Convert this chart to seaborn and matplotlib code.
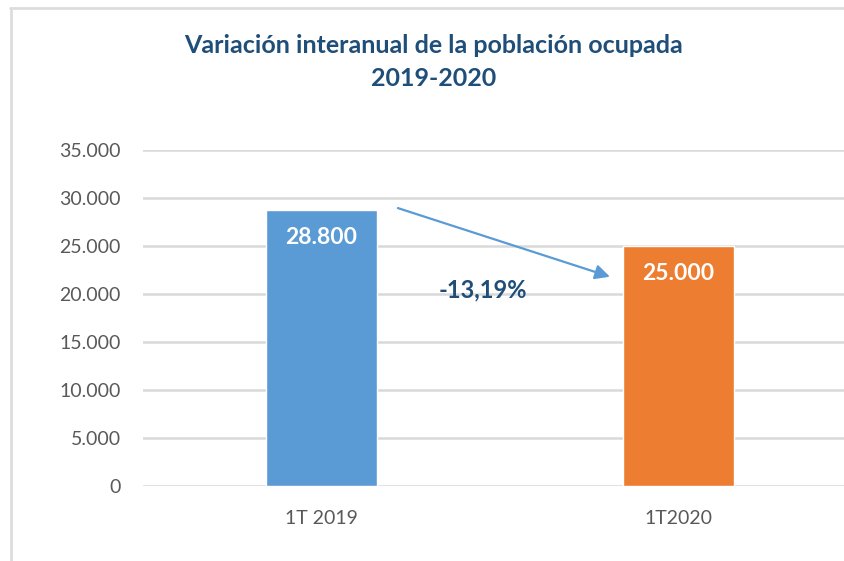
import matplotlib
matplotlib.use("Agg")
import matplotlib.pyplot as plt
from matplotlib.lines import Line2D
import pandas as pd
import seaborn as sns

# data
periods = ["1T 2019", "1T2020"]
ocupados = [28800, 25000]
bar_colors = ["#5B9BD5", "#ED7D31"]
y_ticks = [0, 5000, 10000, 15000, 20000, 25000, 30000, 35000]

TITLE_COLOR = "#1F4E79"
TICK_COLOR = "#595959"
GRID_COLOR = "#D9D9D9"


def fmt_es(v):
    # spanish thousands separator
    return f"{v:,.0f}".replace(",", ".")


sns.set_theme(style="white")
plt.rcParams["font.family"] = ["Lato", "DejaVu Sans"]

W, H = 845, 561
fig = plt.figure(figsize=(W / 100, H / 100), dpi=100)
ax = fig.add_axes([143 / W, 75 / H, 714 / W, 336 / H])

df = pd.DataFrame({"periodo": periods, "ocupados": ocupados})
sns.barplot(data=df, x="periodo", y="ocupados", hue="periodo",
            palette=bar_colors, legend=False, width=0.31, ax=ax,
            saturation=1, zorder=3)

ax.set_xlim(-0.5, 1.5)
ax.set_ylim(0, 35000)
ax.set_yticks(y_ticks)
ax.set_yticklabels([fmt_es(t) for t in y_ticks])
ax.set_xlabel("")
ax.set_ylabel("")
ax.tick_params(axis="both", length=0, labelsize=14, colors=TICK_COLOR)
ax.tick_params(axis="y", pad=16)
ax.tick_params(axis="x", pad=17)
for s in ax.spines.values():
    s.set_visible(False)
ax.yaxis.grid(True, color=GRID_COLOR, linewidth=1.8, zorder=0)
ax.set_axisbelow(True)

# value labels inside the bars
for i, v in enumerate(ocupados):
    ax.annotate(fmt_es(v), (i, v), xytext=(0, -20), textcoords="offset points",
                ha="center", va="center", color="white", fontsize=16.5,
                fontweight="bold")

# arrow and year-on-year change
ax.annotate("", xy=(0.808, 21800), xytext=(0.214, 28950),
            arrowprops=dict(arrowstyle="-|>", color="#5B9BD5", lw=1.6,
                            mutation_scale=22, shrinkA=0, shrinkB=0))
change = (ocupados[1] - ocupados[0]) / ocupados[0] * 100
ax.text(0.452, 20400, f"{change:.2f}%".replace(".", ","), ha="center",
        va="center", color=TITLE_COLOR, fontsize=17, fontweight="bold")

fig.text(434 / W, 1 - 62 / H, "Variación interanual de la población ocupada\n2019-2020",
         ha="center", va="center", color=TITLE_COLOR, fontsize=18,
         fontweight="bold", linespacing=1.5)

# chart frame (top and left edges visible)
fig.add_artist(Line2D([10 / W, 1], [1 - 8 / H, 1 - 8 / H], color="#DDDDDD", lw=2))
fig.add_artist(Line2D([11 / W, 11 / W], [0, 1 - 8 / H], color="#DDDDDD", lw=2))

fig.savefig("out.png", dpi=100)
